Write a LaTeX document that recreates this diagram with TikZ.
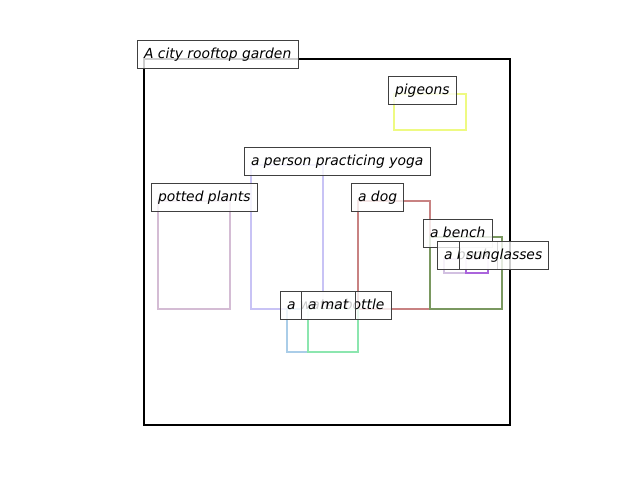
\documentclass[tikz,border=0pt]{standalone}
\usepackage{fontspec}
\setmainfont{DejaVu Sans}
\begin{document}
\begin{tikzpicture}[x=0.75pt,y=-0.75pt,
  bx/.style={line width=1.6pt},
  lbl/.style={anchor=west,draw=black!75,line width=0.6pt,fill=white,fill opacity=0.8,text opacity=1,
    inner xsep=5pt,inner ysep=0pt,text height=8pt,text depth=2pt,minimum height=21pt,font=\fontsize{10.4}{12}\selectfont\itshape},
]
\useasboundingbox (0,0) rectangle (640,480);
\draw[line width=1.5pt,black] (144,59) rectangle (510,425);
\draw[bx,draw={rgb,255:red,238;green,250;blue,130}] (394,94) rectangle (466,130);
\draw[bx,draw={rgb,255:red,200;green,195;blue,245}] (251,165) rectangle (323,309);
\draw[bx,draw={rgb,255:red,212;green,188;blue,212}] (158,201) rectangle (230,309);
\draw[bx,draw={rgb,255:red,200;green,130;blue,130}] (358,201) rectangle (430,309);
\draw[bx,draw={rgb,255:red,122;green,152;blue,96}] (430,237) rectangle (502,309);
\draw[bx,draw={rgb,255:red,210;green,192;blue,225}] (444,259) rectangle (488,273);
\draw[bx,draw={rgb,255:red,170;green,100;blue,220}] (466,259) rectangle (488,273);
\draw[bx,draw={rgb,255:red,170;green,205;blue,232}] (287,309) rectangle (358,352);
\draw[bx,draw={rgb,255:red,140;green,230;blue,175}] (308,309) rectangle (358,352);
\node[lbl] (ltitle) at (137,54) {A city rooftop garden};
\node[lbl] (lpig) at (388,90) {pigeons};
\node[lbl] (lyoga) at (244,161) {a person practicing yoga};
\node[lbl] (lpot) at (151,197) {potted plants};
\node[lbl] (ldog) at (351,197) {a dog};
\node[lbl] (lbench) at (423,233) {a bench};
\node[lbl] (lbook) at (437,255) {a book};
\node[lbl] (lsun) at (459,255) {sunglasses};
\node[lbl] (lwater) at (280,305) {a water bottle};
\node[lbl] (lmat) at (301,305) {a mat};
\end{tikzpicture}
\end{document}
